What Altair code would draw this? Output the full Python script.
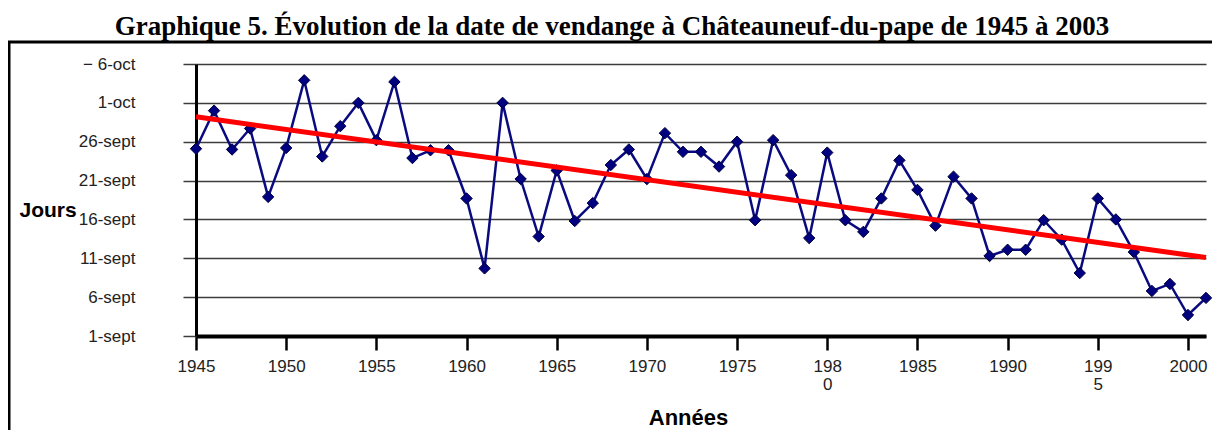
import altair as alt
import pandas as pd

# ---- data ----
years = list(range(1945, 2002))
# day number counted from 1 September (1 = 1-sept, 31 = 1-oct, 36 = 6-oct)
harvest_day = [25.1, 30.0, 25.0, 27.7, 18.9, 25.2, 33.9, 24.1, 28.0, 31.0,
               26.2, 33.7, 23.9, 24.9, 24.9, 18.7, 9.7, 31.0, 21.2, 13.8,
               22.3, 15.8, 18.1, 23.0, 25.0, 21.2, 27.1, 24.7, 24.7, 22.8,
               26.0, 15.9, 26.2, 21.7, 13.6, 24.6, 15.9, 14.4, 18.7, 23.6,
               19.8, 15.2, 21.5, 18.7, 11.3, 12.1, 12.1, 15.9, 13.4, 9.1,
               18.7, 16.0, 11.8, 6.8, 7.7, 3.7, 5.9]

trend_years = [1945, 2001]
trend_day = [29.2, 11.1]

y_tick_values = [1, 6, 11, 16, 21, 26, 31, 36]
y_tick_labels = ["1-sept", "6-sept", "11-sept", "16-sept", "21-sept",
                 "26-sept", "1-oct", "\u2212  6-oct"]
x_tick_values = [1945, 1950, 1955, 1960, 1965, 1970, 1975, 1980, 1985,
                 1990, 1995, 2000]
x_split_labels = {1980: ["198", "0"], 1995: ["199", "5"]}

title_text = ("Graphique 5. \u00c9volution de la date de vendange \u00e0 "
              "Ch\u00e2teauneuf-du-pape de 1945 \u00e0 2003")

df = pd.DataFrame({"year": years, "day": harvest_day})
trend_df = pd.DataFrame({"year": trend_years, "day": trend_day})

y_label_expr = "[" + ",".join("'" + s + "'" for s in y_tick_labels) + "][round((datum.value - 1) / 5)]"
x_label_expr = ""
for yr, parts in x_split_labels.items():
    x_label_expr += "datum.value == %d ? [%s] : " % (yr, ",".join("'" + p + "'" for p in parts))
x_label_expr += "datum.label"

x_enc = alt.X(
    "year:Q",
    scale=alt.Scale(domain=[1945, 2001], nice=False, zero=False),
    axis=alt.Axis(
        values=x_tick_values, format="d", labelExpr=x_label_expr,
        grid=False, domainColor="black", domainWidth=4,
        tickColor="black", tickWidth=2.5, tickSize=14,
        labelFontSize=17, labelColor="#222222", labelPadding=8,
        labelLineHeight=18, labelFlush=False, labelOverlap=False,
        title="Ann\u00e9es", titleFontSize=22, titleFontWeight="bold",
        titleColor="black", titleX=492, titleY=81, titleBaseline="middle",
    ),
)
y_enc = alt.Y(
    "day:Q",
    scale=alt.Scale(domain=[1, 36], nice=False, zero=False),
    axis=alt.Axis(
        values=y_tick_values, labelExpr=y_label_expr,
        grid=True, gridColor="#3c3c3c", gridWidth=1.5,
        domainColor="black", domainWidth=3,
        tickColor="#3c3c3c", tickWidth=1.5, tickSize=13,
        labelFontSize=17, labelColor="#222222", labelPadding=48,
        labelFlush=False, labelOverlap=False,
        title="Jours", titleAngle=0, titleX=-177, titleY=152,
        titleAlign="left", titleBaseline="alphabetic",
        titleFontSize=21, titleFontWeight="bold", titleColor="black",
    ),
)

frame = alt.Chart(alt.Data(values=[{"k": 1}])).mark_rect(
    fill="transparent", stroke="black", strokeWidth=3
).encode(
    x=alt.value(-187), x2=alt.value(1100),
    y=alt.value(-22), y2=alt.value(600),
)

line = alt.Chart(df).mark_line(color="#0a0a80", strokeWidth=2.5).encode(x=x_enc, y=y_enc)
points = alt.Chart(df).mark_point(
    shape="diamond", filled=True, size=130, color="#000080",
    stroke="#00003a", strokeWidth=1, opacity=1,
).encode(x=x_enc, y=y_enc)
trend = alt.Chart(trend_df).mark_line(color="#ff0000", strokeWidth=5).encode(x=x_enc, y=y_enc)

chart = alt.layer(frame, line, points, trend).properties(
    width=1010,
    height=272,
    padding={"left": 188, "top": 56, "right": 6, "bottom": 94},
    autosize=alt.AutoSizeParams(type="none"),
    title=alt.Title(
        text=title_text, font="Liberation Serif", fontSize=27,
        fontWeight="bold", color="black", anchor="middle",
        frame="group", dx=-89, offset=0,
    ),
).configure(font="Liberation Sans").configure_view(strokeWidth=0)

chart.save("out.html", embed_options={"renderer": "svg", "actions": False})
